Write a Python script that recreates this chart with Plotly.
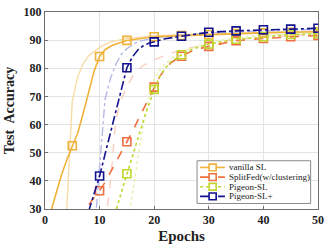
import plotly.graph_objects as go

# region Data
names = ["vanilla SL", "SplitFed(w/clustering)", "Pigeon-SL", "Pigeon-SL+"]

vanilla_x = [0, 1, 2, 3, 4, 5, 6, 7, 8, 9, 10, 11, 12, 13, 15, 17, 20, 25, 30, 35, 40, 45, 50]
vanilla_y = [22, 28.6, 35, 42, 47.5, 52.5, 57, 64, 72, 79, 84.2, 86.6, 87.8, 88.6, 89.9, 90.5, 91.2, 91.6, 92.0, 92.3, 92.6, 92.8, 93.0]

splitfed_x = [6, 7, 8, 9, 10, 11, 12, 13, 14, 15, 16, 17, 18, 19, 20, 21, 22, 23, 24, 25, 27, 30, 35, 40, 45, 50]
splitfed_y = [26.5, 29, 31.5, 34, 36.5, 39.5, 43, 46.5, 50, 53.9, 57.5, 61.5, 65.5, 69.5, 73.3, 77, 79.8, 81.8, 83.2, 84.3, 86.3, 87.8, 89.8, 90.6, 91.2, 91.7]

pigeon_x = [12, 13, 14, 15, 16, 17, 18, 19, 20, 21, 22, 23, 25, 27, 30, 35, 40, 45, 50]
pigeon_y = [24, 29.5, 36, 42.5, 49, 55.5, 61.3, 67, 72.5, 77, 80, 82.2, 84.8, 86.8, 88.6, 90.3, 91.2, 92.0, 92.3]

pigeon_plus_x = [7, 8, 9, 10, 11, 12, 13, 14, 15, 16, 17, 18, 19, 20, 22, 25, 30, 35, 40, 45, 50]
pigeon_plus_y = [23, 29, 35, 41.7, 49.5, 57, 64.5, 72.5, 80.2, 84, 86.5, 88, 88.9, 89.4, 90.5, 91.4, 92.8, 93.3, 93.7, 93.9, 94.2]

# faint companion curves (no legend entry)
vanilla_faint_x = [3, 4, 5, 6, 7, 8, 10, 12, 15, 20, 25, 30, 40, 50]
vanilla_faint_y = [15, 30.5, 68.5, 77, 81.7, 84.5, 87.4, 89.4, 90.6, 91.5, 91.9, 92.3, 92.8, 93.2]

splitfed_faint_x = [10, 11, 12, 13, 14, 15, 16, 17, 18, 20, 22, 25, 30, 35, 40, 45, 50]
splitfed_faint_y = [12, 24, 40, 62, 69, 73.5, 77, 79.5, 81, 83, 84.6, 86.5, 88.8, 90.2, 91, 91.6, 92]

pigeon_faint_x = [15, 16, 17, 18, 19, 20, 21, 22, 24, 25, 30, 35, 40, 45, 50]
pigeon_faint_y = [25, 35, 48, 60, 70, 76, 79.5, 81.5, 84.8, 86, 89.3, 90.8, 91.7, 92.2, 92.6]

pigeon_plus_faint_x = [8, 9, 10, 11, 12, 13, 14, 15, 17, 20, 25, 30, 40, 50]
pigeon_plus_faint_y = [5, 20, 45, 69, 76.5, 81.5, 85, 87, 89.5, 90.8, 91.8, 92.5, 93.3, 93.8]
# endregion

main_colors = ["#F0B23A", "#EE7040", "#BFD62E", "#12128F"]
faint_colors = ["#F8DCA8", "#FACDBE", "#E4F0AE", "#B4B8E6"]
dashes = ["solid", "dash", "dot", "dashdot"]

mains = [(vanilla_x, vanilla_y), (splitfed_x, splitfed_y), (pigeon_x, pigeon_y), (pigeon_plus_x, pigeon_plus_y)]
faints = [(vanilla_faint_x, vanilla_faint_y), (splitfed_faint_x, splitfed_faint_y),
          (pigeon_faint_x, pigeon_faint_y), (pigeon_plus_faint_x, pigeon_plus_faint_y)]

fig = go.Figure()

for (fx, fy), c, d in zip(faints, faint_colors, dashes):
    fig.add_trace(go.Scatter(x=fx, y=fy, mode="lines", showlegend=False,
                             line=dict(color=c, width=1.4, dash=d)))

for (mx, my), c, d in zip(mains, main_colors, dashes):
    fig.add_trace(go.Scatter(x=mx, y=my, mode="lines", showlegend=False,
                             line=dict(color=c, width=1.6, dash=d)))
    # square markers every 5 epochs
    kx = [a for a in mx if a % 5 == 0]
    ky = [b for a, b in zip(mx, my) if a % 5 == 0]
    fig.add_trace(go.Scatter(x=kx, y=ky, mode="markers", showlegend=False,
                             marker=dict(symbol="square-open", size=8, color=c,
                                         line=dict(color=c, width=1.6))))

# hand-made compact legend (paper coords)
font_serif = "Liberation Serif"
fig.add_shape(type="rect", xref="paper", yref="paper", x0=0.557, x1=0.973, y0=0.028, y1=0.245,
              line=dict(color="#8a8a8a", width=1), fillcolor="white", layer="above")
row_y = [0.211, 0.162, 0.113, 0.064]
for name, c, d, ry in zip(names, main_colors, dashes, row_y):
    fig.add_shape(type="line", xref="paper", yref="paper", x0=0.568, x1=0.659, y0=ry, y1=ry,
                  line=dict(color=c, width=1.6, dash=d), layer="above")
    fig.add_shape(type="rect", xref="paper", yref="paper", x0=0.601, x1=0.627,
                  y0=ry - 0.017, y1=ry + 0.017, line=dict(color=c, width=1.6),
                  fillcolor="white", layer="above")
    fig.add_annotation(xref="paper", yref="paper", x=0.667, y=ry, text=name, showarrow=False,
                       xanchor="left", yanchor="middle",
                       font=dict(family=font_serif, size=9, color="#222"))

axis_common = dict(showgrid=True, gridcolor="#e4e4e4", gridwidth=1, zeroline=False,
                   showline=True, linecolor="#6e6e6e", linewidth=1, mirror=True,
                   ticks="inside", ticklen=3, tickcolor="#6e6e6e", ticklabeloverflow="allow",
                   tickfont=dict(family=font_serif, size=12, color="#222", weight="bold"))

fig.update_xaxes(range=[0, 50], dtick=10, tick0=0,
                 title=dict(text="Epochs", standoff=4,
                            font=dict(family=font_serif, size=15, color="#222", weight="bold")),
                 **axis_common)
fig.update_yaxes(range=[30, 100], dtick=10, tick0=0,
                 title=dict(text="Test  Accuracy", standoff=5,
                            font=dict(family=font_serif, size=14, color="#222", weight="bold")),
                 **axis_common)

fig.update_layout(width=329, height=249, margin=dict(l=45, r=11, t=5, b=40),
                  plot_bgcolor="white", paper_bgcolor="white", showlegend=False)

fig.write_html("out.html", config={"displayModeBar": False},
               post_script="document.body.style.margin='0';")
